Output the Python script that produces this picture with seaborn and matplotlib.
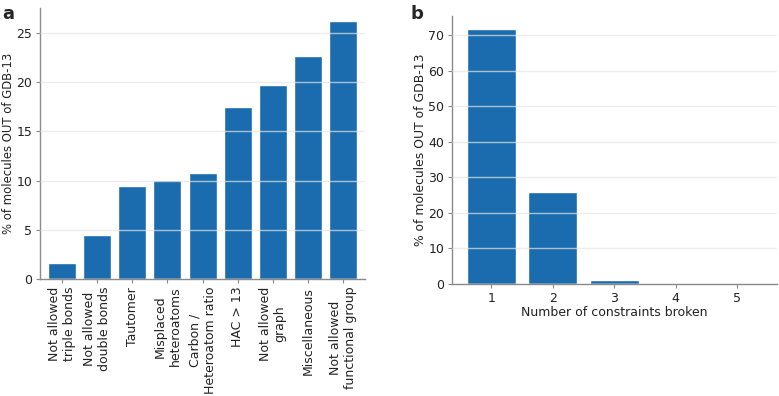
import matplotlib
matplotlib.use("Agg")
import matplotlib.pyplot as plt
import seaborn as sns
import pandas as pd

categories_a = ["Not allowed\ntriple bonds", "Not allowed\ndouble bonds", "Tautomer",
                "Misplaced\nheteroatoms", "Carbon /\nHeteroatom ratio", "HAC > 13",
                "Not allowed\ngraph", "Miscellaneous", "Not allowed\nfunctional group"]
values_a = [1.6, 4.5, 9.4, 10.05, 10.8, 17.5, 19.7, 22.6, 26.2]

categories_b = ["1", "2", "3", "4", "5"]
values_b = [71.9, 26.0, 1.2, 0.05, 0.02]

sns.set_theme(style="white")
plt.rcParams['font.family'] = ['DejaVu Sans']

bar_color = "#1b6cae"
spine_color = "#8a8a8a"
fs = 9

fig = plt.figure(figsize=(7.79, 3.96), dpi=100)
ax_a = fig.add_axes([0.051, 0.295, 0.418, 0.685])
ax_b = fig.add_axes([0.580, 0.283, 0.417, 0.677])

df_a = pd.DataFrame({"cat": categories_a, "val": values_a})
df_b = pd.DataFrame({"cat": categories_b, "val": values_b})

sns.barplot(data=df_a, x="cat", y="val", ax=ax_a, color=bar_color, saturation=1, width=0.8)
sns.barplot(data=df_b, x="cat", y="val", ax=ax_b, color=bar_color, saturation=1, width=0.8)

for ax in (ax_a, ax_b):
    ax.set_axisbelow(False)
    ax.yaxis.grid(True, color="#e4e4e4", linewidth=1.0, alpha=0.7)
    ax.xaxis.grid(False)
    for s in ("top", "right"):
        ax.spines[s].set_visible(False)
    for s in ("left", "bottom"):
        ax.spines[s].set_color(spine_color)
        ax.spines[s].set_linewidth(1.0)
    ax.tick_params(axis="both", which="both", length=3, width=0.8, color=spine_color,
                   labelsize=fs, labelcolor="#222222", bottom=True, left=True, pad=2.5)

ax_a.set_ylabel("% of molecules OUT of GDB-13", fontsize=8.4, color="#222222")
ax_a.yaxis.set_label_coords(-0.077, 0.5)
ax_b.set_ylabel("% of molecules OUT of GDB-13", fontsize=8.9, color="#222222")
ax_b.yaxis.set_label_coords(-0.077, 0.5)

ax_a.set_xlim(-0.64, 8.64)
ax_a.set_ylim(0, 27.5)
ax_a.set_yticks([0, 5, 10, 15, 20, 25])
ax_a.set_xlabel("")
ax_a.set_xticks(range(len(categories_a)))
ax_a.set_xticklabels(categories_a, rotation=90, ha="center", va="top", multialignment="center")

ax_b.set_xlim(-0.64, 4.64)
ax_b.set_ylim(0, 75.5)
ax_b.set_yticks([0, 10, 20, 30, 40, 50, 60, 70])
ax_b.set_xlabel("Number of constraints broken", fontsize=fs, color="#222222", labelpad=1)

fig.text(0.003, 0.988, "a", fontsize=13, fontweight="bold", va="top", ha="left")
fig.text(0.527, 0.988, "b", fontsize=13, fontweight="bold", va="top", ha="left")

fig.savefig("out.png", dpi=100)
